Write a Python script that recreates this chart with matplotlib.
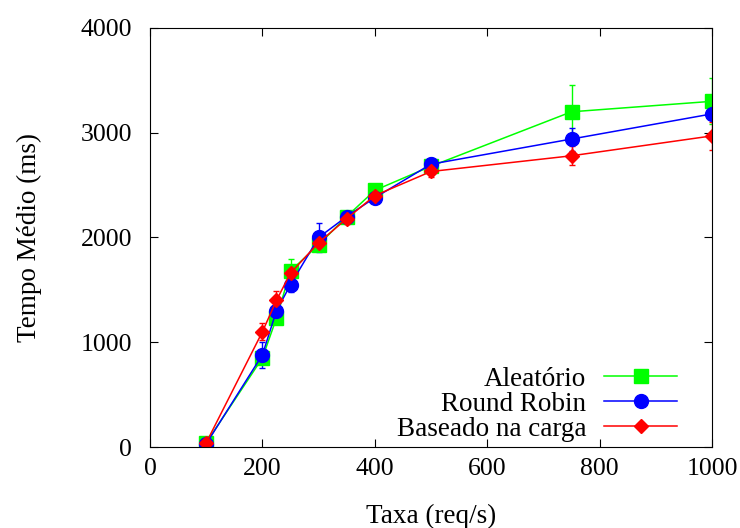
import matplotlib
matplotlib.use("Agg")
import matplotlib.pyplot as plt

plt.rcParams['font.family'] = ['Liberation Serif', 'DejaVu Serif']

taxa = [100, 200, 225, 250, 300, 350, 400, 500, 750, 1000]

aleatorio = [40, 850, 1230, 1680, 1930, 2200, 2450, 2680, 3200, 3300]
aleatorio_err = [20, 60, 60, 110, 60, 50, 50, 50, 260, 220]

round_robin = [30, 880, 1300, 1550, 2000, 2200, 2380, 2700, 2940, 3180]
round_robin_err = [20, 125, 60, 70, 140, 50, 50, 60, 110, 60]

baseado = [40, 1100, 1400, 1660, 1950, 2180, 2400, 2630, 2780, 2970]
baseado_err = [20, 80, 90, 70, 60, 50, 40, 50, 90, 130]

fig = plt.figure(figsize=(7.4, 5.28), dpi=100)
ax = fig.add_axes([0.2027, 0.1534, 0.7595, 0.7936])

ax.errorbar(taxa, aleatorio, yerr=aleatorio_err, color="#00ff00", lw=1.1,
            marker='s', ms=10.5, capsize=2.5, elinewidth=1, label="Aleatório")
ax.errorbar(taxa, round_robin, yerr=round_robin_err, color="#0000ff", lw=1.1,
            marker='o', ms=10, capsize=2.5, elinewidth=1, label="Round Robin")
ax.errorbar(taxa, baseado, yerr=baseado_err, color="#ff0000", lw=1.1,
            marker='D', ms=7, capsize=2.5, elinewidth=1, label="Baseado na carga")

ax.set_xlim(0, 1000)
ax.set_ylim(0, 4000)
ax.set_xticks([0, 200, 400, 600, 800, 1000])
ax.set_yticks([0, 1000, 2000, 3000, 4000])
ax.tick_params(direction='in', top=True, right=True, labelsize=18.5, length=6)
ax.tick_params(axis='x', pad=8)
ax.tick_params(axis='y', pad=13)
ax.set_xlabel("Taxa (req/s)", fontsize=19.5, labelpad=17)
ax.set_ylabel("Tempo Médio (ms)", fontsize=19.5, labelpad=28)

handles, labels = ax.get_legend_handles_labels()
handles = [h[0] for h in handles]
ax.legend(handles, labels, loc='lower right', bbox_to_anchor=(0.938, 0.012),
          frameon=False, markerfirst=False, fontsize=19.5,
          handlelength=2.7, handletextpad=0.65, labelspacing=0.0,
          borderpad=0, borderaxespad=0)

fig.savefig("out.png", dpi=100)
